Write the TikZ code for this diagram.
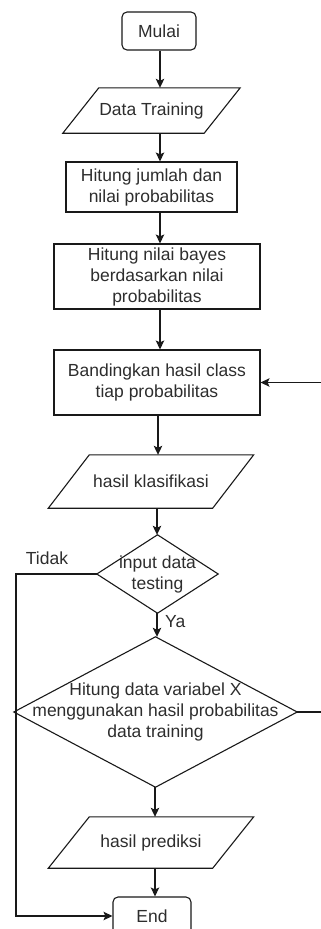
\documentclass[tikz,border=0pt]{standalone}
\usepackage{fontspec}
\setmainfont{Liberation Sans}
\usetikzlibrary{arrows.meta,calc}
\definecolor{txtc}{RGB}{45,45,45}
\tikzset{
  ln/.style={draw=black!90, line width=1.1pt},
  arr/.style={ln, -{Stealth[length=9pt,width=8.5pt,inset=2pt]}},
  box/.style={ln, rectangle, align=center, inner sep=0pt, text=txtc,
    font=\fontsize{17.5}{21}\selectfont},
  rbox/.style={box, rounded corners=5pt},
  blank/.style={rectangle, align=center, inner sep=0pt, text=txtc,
    font=\fontsize{17.5}{21}\selectfont},
  lbl/.style={text=txtc, inner sep=0pt, font=\fontsize{17.5}{21}\selectfont},
}
\begin{document}
\begin{tikzpicture}[x=1pt,y=-1pt]
\useasboundingbox (0,0) rectangle (321,929);
% nodes
\node[rbox, minimum width=74pt, minimum height=38pt] (mulai) at (159,31) {Mulai};
\node[blank, minimum width=141pt, minimum height=45pt] (dt) at (151.5,110.5) {Data Training};
\draw[ln] ([xshift=-18pt]dt.south west) -- ([xshift=-18pt]dt.south east)
  -- ([xshift=18pt]dt.north east) -- ([xshift=18pt]dt.north west) -- cycle;
\node[box, minimum width=171pt, minimum height=50pt] (b1) at (151.5,187) {Hitung jumlah dan\\nilai probabilitas};
\node[box, minimum width=206pt, minimum height=65pt] (b2) at (157,276.5) {Hitung nilai bayes\\berdasarkan nilai\\probabilitas};
\node[box, minimum width=206pt, minimum height=65pt] (b3) at (157,382.5) {Bandingkan hasil class\\tiap probabilitas};
\node[blank, minimum width=164pt, minimum height=53pt] (hk) at (151,481.5) {hasil klasifikasi};
\draw[ln] ([xshift=-20.5pt]hk.south west) -- ([xshift=-20.5pt]hk.south east)
  -- ([xshift=20.5pt]hk.north east) -- ([xshift=20.5pt]hk.north west) -- cycle;
\node[blank, minimum width=121pt, minimum height=78pt] (d1) at (157.5,574) {input data\\testing};
\draw[ln] (d1.north) -- (d1.east) -- (d1.south) -- (d1.west) -- cycle;
\node[blank, minimum width=283pt, minimum height=150pt] (d2) at (155.5,712) {Hitung data variabel X\\menggunakan hasil probabilitas\\data training};
\draw[ln] (d2.north) -- (d2.east) -- (d2.south) -- (d2.west) -- cycle;
\node[blank, minimum width=164pt, minimum height=51pt] (hp) at (151,842.5) {hasil prediksi};
\draw[ln] ([xshift=-20.5pt]hp.south west) -- ([xshift=-20.5pt]hp.south east)
  -- ([xshift=20.5pt]hp.north east) -- ([xshift=20.5pt]hp.north west) -- cycle;
\node[rbox, minimum width=78pt, minimum height=38pt] (end) at (152,916) {End};
\node[lbl] (tidak) at (47,558) {Tidak};
\node[lbl, anchor=west] (ya) at (165,622) {Ya};
% axes for vertical connectors
\coordinate (ax1) at (160,0);
\coordinate (ax2) at (158,0);
\coordinate (ax3) at (157,0);
\coordinate (ax4) at (155,0);
\coordinate (lx) at (16,0);
\coordinate (rx) at (335,0);
% connectors
\draw[arr] (mulai.south -| ax1) -- (dt.north -| ax1);
\draw[arr] (dt.south -| ax1) -- (b1.north -| ax1);
\draw[arr] (b1.south -| ax1) -- (b2.north -| ax1);
\draw[arr] (b2.south -| ax1) -- (b3.north -| ax1);
\draw[arr] (b3.south -| ax2) -- (hk.north -| ax2);
\draw[arr] (hk.south -| ax3) -- (d1.north -| ax3);
\draw[arr] (d1.south -| ax3) -- (d2.north -| ax3);
\draw[arr] (d2.south -| ax4) -- (hp.north -| ax4);
\draw[arr] (hp.south -| ax4) -- (end.north -| ax4);
\draw[arr] (d1.west) -- (d1.west -| lx) -- (end.west -| lx) -- (end.west);
\draw[arr] (d2.east) -- (d2.east -| rx) -- (b3.east -| rx) -- (b3.east);
\end{tikzpicture}
\end{document}
